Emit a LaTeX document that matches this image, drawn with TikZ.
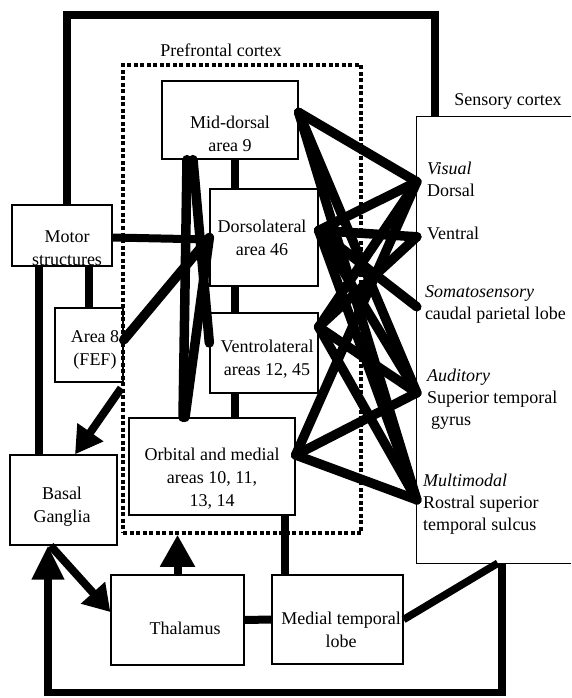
\documentclass[tikz,border=0pt]{standalone}
\usepackage{fontspec}
\setmainfont{Liberation Serif}
\usetikzlibrary{arrows.meta,calc}
\begin{document}
\begin{tikzpicture}[x=1pt,y=-1pt,
  box/.style={draw, line width=1.3pt, inner sep=0pt},
  txt/.style={font=\fontsize{18}{23}\selectfont, align=center, inner sep=0pt},
  slab/.style={font=\fontsize{18}{22}\selectfont, align=left, inner sep=0pt, anchor=west},
  link/.style={line width=9.5pt, line cap=round},
  bar/.style={line width=8pt},
  loopline/.style={line width=7.5pt},
  pfbox/.style={draw, line width=3.5pt, dash pattern=on 4pt off 2.5pt, inner sep=0pt},
]
\useasboundingbox (0,0) rectangle (571,698);

% boxes
\node[pfbox, minimum width=238pt, minimum height=468pt] (pf) at (242,299) {};
\node[box, minimum width=136pt, minimum height=78pt] (md) at (230,120) {};
\node[box, minimum width=108pt, minimum height=97pt] (dl) at (264,237.5) {};
\node[box, minimum width=108pt, minimum height=80pt] (vl) at (264,353) {};
\node[box, minimum width=166pt, minimum height=97pt] (om) at (212,466.5) {};
\node[box, minimum width=100pt, minimum height=61pt] (ms) at (62,235.5) {};
\node[box, minimum width=68pt, minimum height=74pt] (a8) at (89,345) {};
\node[box, minimum width=107pt, minimum height=90pt] (bg) at (63.5,500) {};
\node[box, minimum width=133pt, minimum height=90pt] (th) at (177.5,620) {};
\node[box, minimum width=131pt, minimum height=89pt] (mtl) at (337.5,619.5) {};
\node[inner sep=0pt, minimum width=154pt, minimum height=446pt] (sc) at (494,340) {};
\draw[line width=1.3pt] (sc.north east) -- (sc.north west) -- (sc.south west) -- (sc.south east);

% texts
\node[txt] at ([xshift=-21pt,yshift=13pt]pf.north) {Prefrontal cortex};
\node[txt] at ([xshift=14pt,yshift=15pt]sc.north) {Sensory cortex};
\node[txt] at ([yshift=-14pt]md.center) {Mid-dorsal\\area 9};
\node[txt] at ([xshift=-2pt]dl.center) {Dorsolateral\\area 46};
\node[txt] at ([xshift=3pt,yshift=-6.5pt]vl.center) {Ventrolateral\\areas 12, 45};
\node[txt] at ([yshift=-12.5pt]om.center) {Orbital and medial\\areas 10, 11,\\13, 14};
\node[txt] at ([xshift=5pt,yshift=-13pt]ms.center) {Motor\\structures};
\node[txt] at ([xshift=6pt,yshift=-5pt]a8.center) {Area 8\\(FEF)};
\node[txt] at ([xshift=-1.5pt,yshift=-6.5pt]bg.center) {Basal\\Ganglia};
\node[txt] at ([xshift=7.5pt,yshift=-8pt]th.center) {Thalamus};
\node[txt] at ([xshift=3.5pt,yshift=-10.5pt]mtl.center) {Medial temporal\\lobe};

\node[slab] (lvis) at ($(sc.north west)+(10,63)$) {\itshape Visual\\Dorsal};
\node[slab] (lven) at ($(sc.north west)+(10,117)$) {Ventral};
\node[slab] (lsom) at ($(sc.north west)+(8,188)$) {\itshape Somatosensory\\caudal parietal lobe};
\node[slab] (laud) at ($(sc.north west)+(10,282)$) {\itshape Auditory\\Superior temporal\\\hspace{4pt}gyrus};
\node[slab] (lmul) at ($(sc.north west)+(6,387)$) {\itshape Multimodal\\Rostral superior\\temporal sulcus};

% connection points
\coordinate (pvis) at ($(sc.north west)+(0,65)$);
\coordinate (pven) at ($(sc.north west)+(0,120)$);
\coordinate (psom) at ($(sc.north west)+(0,190)$);
\coordinate (paud) at ($(sc.north west)+(0,276)$);
\coordinate (pmul) at ($(sc.north west)+(0,383)$);
\coordinate (pmd) at ([yshift=-32pt]md.north east);
\coordinate (pdl) at ([yshift=7pt]dl.east);
\coordinate (pvl) at ([yshift=26pt]vl.east);
\coordinate (pom) at ([yshift=11.5pt]om.east);

% prefrontal to sensory
\draw[link] (pmd) -- (pvis);
\draw[link] (pmd) -- (paud);
\draw[link] (pmd) -- (pmul);
\draw[link] (pdl) -- (pvis);
\draw[link] (pdl) -- (pven);
\draw[link] (pdl) -- (psom);
\draw[link] (pdl) -- (paud);
\draw[link] (pdl) -- (pmul);
\draw[link] (pvl) -- (pvis);
\draw[link] (pvl) -- (pven);
\draw[link] (pvl) -- (paud);
\draw[link] (pvl) -- (pmul);
\draw[link] (pom) -- (pvis);
\draw[link] (pom) -- (paud);
\draw[link] (pom) -- (pmul);

% within prefrontal
\draw[link] ([xshift=-43pt]md.south) -- ([xshift=-29pt]om.north);
\draw[link] ([xshift=-37pt]md.south) -- ([yshift=10pt]vl.west);
\draw[link] (dl.west) -- ([xshift=-27pt]om.north);
\draw[bar] ([xshift=5pt]md.south) -- ([xshift=5pt]md.south |- dl.north);
\draw[bar] ([xshift=-29pt]dl.south) -- ([xshift=-29pt]dl.south |- vl.north);
\draw[bar] ([xshift=-29pt]vl.south) -- ([xshift=-29pt]vl.south |- om.north);

% motor side
\draw[bar] ([yshift=-2pt]ms.east) -- ([yshift=-2pt]dl.west);
\draw[link] ([yshift=5pt]a8.east) -- (dl.west);
\draw[bar] (a8.north |- ms.south) -- (a8.north);
\draw[bar] ([xshift=-23pt]ms.south) -- ([xshift=-23pt]ms.south |- bg.north);
\draw[loopline] ([xshift=5pt]ms.north) |- ([xshift=18pt,yshift=102pt]sc.north west) -- ([xshift=18pt]sc.north west);

% lower part
\draw[bar] ([xshift=-52.5pt]mtl.north) -- ([xshift=-52.5pt]mtl.north |- om.south);
\draw[bar] (th.east) -- (mtl.west);
\draw[loopline] (mtl.east) -- ([xshift=81pt]sc.south west);
\draw[loopline, -{Triangle[length=34pt,width=31pt]}] ([xshift=85pt]sc.south west) |- ([yshift=-27pt]th.south) -| ([xshift=-15.5pt]bg.south);

% arrows
\draw[line width=8pt, -{Triangle[length=27pt,width=30pt]}] ([yshift=-89pt]pf.west) -- ([xshift=11.5pt]bg.north);
\draw[line width=8pt, -{Triangle[length=32pt,width=33pt]}] (th.north) -- (th.north |- pf.south);
\draw[line width=8pt, -{Triangle[length=26pt,width=31pt]}] ([xshift=-13pt]bg.south) -- ([yshift=8pt]th.west);
\end{tikzpicture}
\end{document}
